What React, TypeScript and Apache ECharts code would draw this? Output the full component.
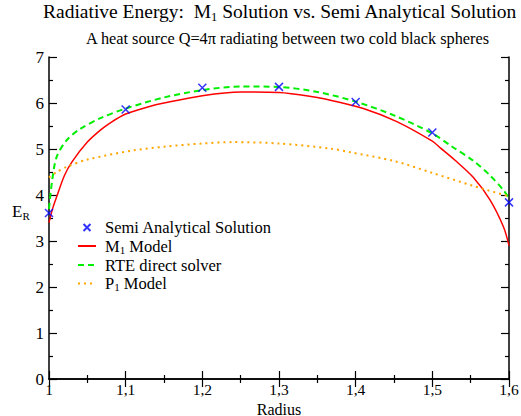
import React, { useEffect, useRef } from "react";
import * as echarts from "echarts";

const radiusSemi = [1.0, 1.1, 1.2, 1.3, 1.4, 1.5, 1.6];
const eSemi = [3.61, 5.86, 6.33, 6.35, 6.02, 5.36, 3.84];

const radiusM1 = [1.0, 1.005, 1.01, 1.02, 1.03, 1.05, 1.067, 1.08, 1.1, 1.13, 1.15, 1.2, 1.25, 1.3, 1.35, 1.367, 1.41, 1.453, 1.5, 1.51, 1.53, 1.553, 1.575, 1.593, 1.6];
const eM1 = [3.4, 3.72, 3.96, 4.42, 4.72, 5.15, 5.41, 5.57, 5.76, 5.92, 6.0, 6.16, 6.24, 6.23, 6.12, 6.06, 5.88, 5.6, 5.17, 5.03, 4.75, 4.39, 3.9, 3.3, 2.9];

const radiusRTE = [1.0, 1.004, 1.01, 1.023, 1.04, 1.067, 1.1, 1.15, 1.2, 1.25, 1.3, 1.35, 1.4, 1.45, 1.5, 1.525, 1.553, 1.575, 1.593, 1.6];
const eRTE = [3.7, 4.3, 4.83, 5.19, 5.43, 5.67, 5.88, 6.12, 6.28, 6.36, 6.35, 6.24, 6.03, 5.73, 5.34, 5.06, 4.75, 4.43, 4.1, 3.93];

const radiusP1 = [1.0, 1.01, 1.023, 1.05, 1.11, 1.15, 1.2, 1.24, 1.3, 1.367, 1.393, 1.45, 1.5, 1.553, 1.6];
const eP1 = [4.38, 4.5, 4.61, 4.77, 4.97, 5.05, 5.12, 5.15, 5.12, 5.01, 4.93, 4.74, 4.48, 4.2, 3.97];

const xTicks = { min: 1, max: 1.6, interval: 0.1 };
const yTicks = { min: 0, max: 7, interval: 1 };

const FONT = "'Liberation Serif', 'Times New Roman', serif";

function pairs(xs: number[], ys: number[]) {
  return xs.map((x, i) => [x, ys[i]]);
}

export default function App() {
  const ref = useRef<HTMLDivElement>(null);
  useEffect(() => {
    document.body.style.margin = "0";
    const chart = echarts.init(ref.current!, undefined, { renderer: "svg" });
    const axisLine = { show: true, lineStyle: { color: "#000", width: 1.5 } };
    const tick = { show: true, inside: true, length: 8, lineStyle: { color: "#000", width: 1.2 } };
    const minor = { show: true, splitNumber: 2, length: 4, lineStyle: { color: "#000", width: 1.2 } };
    const subRich = {
      n: { fontFamily: FONT, fontSize: 16.5, fontWeight: "normal", color: "#000", lineHeight: 18 },
      s: { fontFamily: FONT, fontSize: 11, fontWeight: "normal", color: "#000", lineHeight: 10, verticalAlign: "bottom" },
      p: { fontFamily: FONT, fontSize: 16.5, fontWeight: "normal", color: "#000", lineHeight: 18, padding: [0, 0, 0, 4] },
    };
    chart.setOption({
      animation: false,
      backgroundColor: "#fff",
      textStyle: { fontFamily: FONT },
      title: [
        {
          text: "{n|Radiative Energy:  M}{s|1}{n| Solution vs. Semi Analytical Solution}",
          left: 43,
          top: 0,
          padding: 0,
          textStyle: {
            fontWeight: "normal",
            fontFamily: FONT,
            rich: {
              n: { fontFamily: FONT, fontSize: 19.5, fontWeight: "normal", color: "#000", lineHeight: 23 },
              s: { fontFamily: FONT, fontSize: 12.5, fontWeight: "normal", color: "#000", lineHeight: 12, verticalAlign: "bottom" },
            },
          },
        },
        {
          text: "A heat source Q=4\u03c0 radiating between two cold black spheres",
          left: 86,
          top: 30,
          padding: 0,
          textStyle: { fontFamily: FONT, fontSize: 16.3, fontWeight: "normal", color: "#000" },
        },
      ],
      graphic: [
        {
          type: "text",
          left: 12,
          top: 203,
          style: {
            text: "{n|E}{s|R}",
            rich: {
              n: { fontFamily: FONT, fontSize: 17, fill: "#000", lineHeight: 20 },
              s: { fontFamily: FONT, fontSize: 11, fill: "#000", lineHeight: 11, verticalAlign: "bottom" },
            },
          },
        },
      ],
      legend: {
        orient: "vertical",
        left: 77,
        top: 219,
        padding: 0,
        itemWidth: 18,
        itemHeight: 7,
        itemGap: 1.5,
        data: [
          { name: "Semi Analytical Solution" },
          { name: "M1 Model", itemStyle: { opacity: 0 } },
          { name: "RTE direct solver", itemStyle: { opacity: 0 } },
          { name: "P1 Model", itemStyle: { opacity: 0 } },
        ],
        formatter: (name: string) => {
          if (name === "M1 Model") return "{p|M}{s|1}{n| Model}";
          if (name === "P1 Model") return "{p|P}{s|1}{n| Model}";
          return "{p|" + name + "}";
        },
        textStyle: { fontFamily: FONT, rich: subRich },
      },
      grid: { left: 49, right: 12, top: 57, bottom: 37, containLabel: false, outerBoundsMode: "none" },
      xAxis: [
        {
          type: "value",
          ...xTicks,
          name: "Radius",
          nameLocation: "middle",
          nameGap: 19,
          nameTextStyle: { fontFamily: FONT, fontSize: 16, color: "#000" },
          axisLine,
          axisTick: tick,
          minorTick: minor,
          splitLine: { show: false },
          axisLabel: {
            fontFamily: FONT,
            fontSize: 15.5,
            color: "#000",
            margin: 2,
            formatter: (v: number) => String(Math.round(v * 10) / 10).replace(".", ","),
          },
        },
        {
          type: "value",
          position: "top",
          ...xTicks,
          axisLine,
          axisTick: tick,
          minorTick: minor,
          splitLine: { show: false },
          axisLabel: { show: false },
        },
      ],
      yAxis: [
        {
          type: "value",
          ...yTicks,
          axisLine,
          axisTick: tick,
          minorTick: minor,
          splitLine: { show: false },
          axisLabel: { fontFamily: FONT, fontSize: 17, color: "#000", margin: 5 },
        },
        {
          type: "value",
          position: "right",
          ...yTicks,
          axisLine,
          axisTick: tick,
          minorTick: minor,
          splitLine: { show: false },
          axisLabel: { show: false },
        },
      ],
      series: [
        {
          name: "Semi Analytical Solution",
          type: "scatter",
          data: pairs(radiusSemi, eSemi),
          symbol: "path://M0,0L10,10M10,0L0,10",
          symbolSize: 8,
          itemStyle: { color: "rgba(0,0,0,0)", borderColor: "#0000ff", borderWidth: 1.5 },
          z: 5,
        },
        {
          name: "M1 Model",
          type: "line",
          data: pairs(radiusM1, eM1),
          showSymbol: false,
          symbol: "none",
          smooth: 0.3,
          itemStyle: { color: "#ff0000" },
          lineStyle: { color: "#ff0000", width: 1.5 },
        },
        {
          name: "RTE direct solver",
          type: "line",
          data: pairs(radiusRTE, eRTE),
          showSymbol: false,
          symbol: "none",
          smooth: 0.3,
          itemStyle: { color: "#00ee00" },
          lineStyle: { color: "#00ee00", width: 2, type: [6, 4] },
        },
        {
          name: "P1 Model",
          type: "line",
          data: pairs(radiusP1, eP1),
          showSymbol: false,
          symbol: "none",
          smooth: 0.3,
          itemStyle: { color: "#ffa500" },
          lineStyle: { color: "#ffa500", width: 2, type: [2, 4] },
        },
      ],
    });
    return () => chart.dispose();
  }, []);
  return <div ref={ref} style={{ width: 521, height: 416 }} />;
}
